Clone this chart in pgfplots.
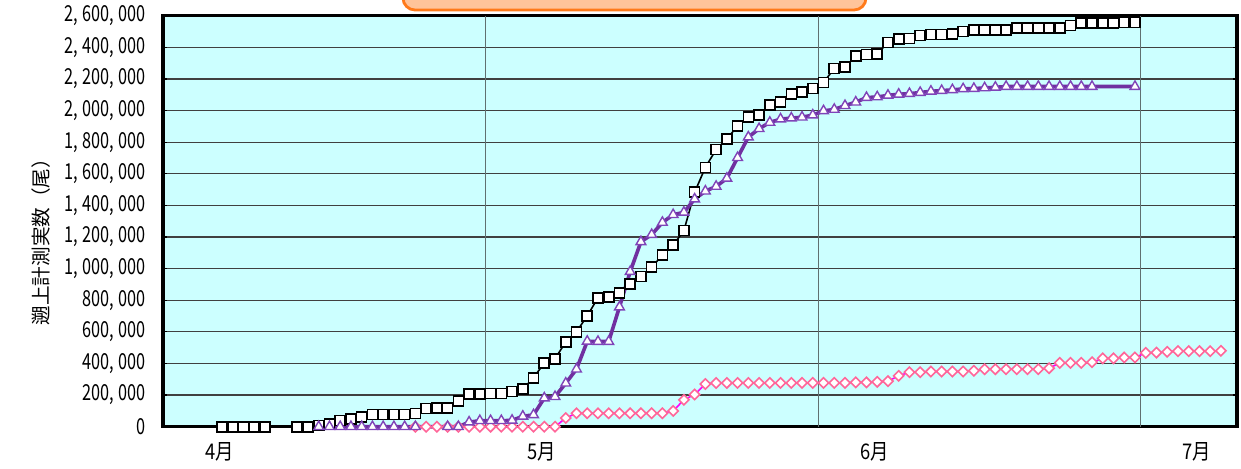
\documentclass[border=0pt]{standalone}
\usepackage{fontspec}
\setmainfont{Noto Sans CJK JP}
\newfontfamily\tickfont[FakeStretch=0.74]{Noto Sans CJK JP}
\newfontfamily\xtickfont[FakeStretch=0.85]{Noto Sans CJK JP}
\usepackage{pgfplots}
\pgfplotsset{compat=1.18}
\definecolor{bgc}{HTML}{CCFFFF}
\definecolor{hgrid}{HTML}{404040}
\definecolor{vgrid}{HTML}{607070}
\definecolor{purp}{HTML}{7030A0}
\definecolor{triE}{HTML}{7F44B8}
\definecolor{mag}{HTML}{FF00FF}
\definecolor{pinkE}{HTML}{FF6699}
\definecolor{orE}{HTML}{FF7A1A}
\definecolor{orF}{HTML}{FFC49A}
\newcommand{\cs}{,\hspace{2.2pt}}
\begin{document}
\begin{tikzpicture}
\useasboundingbox (0,0) rectangle (620.5pt,234pt);
\begin{scope}
\clip (0,0) rectangle (620.5pt,234pt);
\draw[line width=1.4pt, draw=orE, fill=orF, rounded corners=6pt] (201.5pt,229pt) rectangle (433pt,260pt);
\end{scope}
\node[rotate=90, font=\fontsize{9.8}{11}\selectfont] at (20.5pt,115.5pt) {遡上計測実数（尾）};
\begin{axis}[
  at={(81.5pt,20.65pt)}, anchor=south west,
  scale only axis, width=537pt, height=205.5pt,
  xmin=0, xmax=100, ymin=0, ymax=2600000,
  axis background/.style={fill=bgc},
  axis line style={line width=1.6pt, black},
  clip=false,
  ytick={0,200000,400000,600000,800000,1000000,1200000,1400000,1600000,1800000,2000000,2200000,2400000,2600000},
  yticklabels={0,200\cs000,400\cs000,600\cs000,800\cs000,1\cs000\cs000,1\cs200\cs000,1\cs400\cs000,1\cs600\cs000,1\cs800\cs000,2\cs000\cs000,2\cs200\cs000,2\cs400\cs000,2\cs600\cs000},
  ymajorgrids,
  major grid style={color=hgrid, line width=0.6pt},
  tick align=inside,
  ytick style={black, line width=0.6pt},
  major tick length=2pt,
  yticklabel style={font=\tickfont\fontsize{11}{12}\selectfont, xshift=-5pt},
  xtick={5.25,35.25,66.25,96.25},
  xticklabels={4月,5月,6月,7月},
  xtick style={draw=none},
  xticklabel style={font=\xtickfont\fontsize{10.8}{12}\selectfont, yshift=-4.5pt},
  extra x ticks={30,61,91},
  extra x tick labels={},
  extra x tick style={grid=major, major grid style={color=vgrid, line width=0.6pt}, tick style={draw=none}},
  scaled y ticks=false,
]
% squares series
\addplot[black, line width=0.8pt, mark=square*, mark size=2.5pt, mark options={fill=white, draw=black, line width=0.8pt}] coordinates {
(5.5,0)(6.5,0)(7.5,0)(8.5,0)(9.5,0)(12.5,0)(13.5,0)(14.5,8000)(15.5,19000)(16.5,40000)(17.5,50000)(18.5,63000)(19.5,78000)(20.5,78000)(21.5,78000)(22.5,78000)(23.5,84000)(24.5,114000)(25.5,118000)(26.5,118000)(27.5,164000)(28.5,206000)(29.5,206000)(30.5,209000)(31.5,211000)(32.5,222000)(33.5,237000)(34.5,310000)(35.5,403000)(36.5,430000)(37.5,536000)(38.5,600000)(39.5,702000)(40.5,815000)(41.5,820000)(42.5,846000)(43.5,902000)(44.5,951000)(45.5,1010000)(46.5,1085000)(47.5,1149000)(48.5,1240000)(49.5,1483000)(50.5,1641000)(51.5,1753000)(52.5,1820000)(53.5,1903000)(54.5,1960000)(55.5,1970000)(56.5,2034000)(57.5,2056000)(58.5,2104000)(59.5,2119000)(60.5,2139000)(61.5,2178000)(62.5,2266000)(63.5,2274000)(64.5,2344000)(65.5,2355000)(66.5,2358000)(67.5,2430000)(68.5,2453000)(69.5,2457000)(70.5,2474000)(71.5,2482000)(72.5,2482000)(73.5,2486000)(74.5,2499000)(75.5,2508000)(76.5,2508000)(77.5,2508000)(78.5,2508000)(79.5,2524000)(80.5,2524000)(81.5,2524000)(82.5,2524000)(83.5,2524000)(84.5,2537000)(85.5,2552000)(86.5,2552000)(87.5,2552000)(88.5,2552000)(89.5,2556000)(90.5,2556000)
};
% diamonds series
\addplot[mag, line width=0.8pt, mark=square*, mark size=1.8pt, mark options={rotate=45, fill=white, draw=pinkE, line width=0.8pt}] coordinates {
(23.5,0)(24.5,0)(25.5,0)(26.5,0)(27.5,0)(28.5,0)(29.5,0)(30.5,0)(31.5,0)(32.5,0)(33.5,0)(34.5,0)(35.5,0)(36.5,0)(37.5,55000)(38.5,85000)(39.5,85000)(40.5,85000)(41.5,85000)(42.5,85000)(43.5,85000)(44.5,85000)(45.5,85000)(46.5,85000)(47.5,100000)(48.5,170000)(49.5,204000)(50.5,270000)(51.5,277000)(52.5,277000)(53.5,277000)(54.5,277000)(55.5,277000)(56.5,277000)(57.5,277000)(58.5,277000)(59.5,277000)(60.5,277000)(61.5,277000)(62.5,277000)(63.5,277000)(64.5,280000)(65.5,280000)(66.5,284000)(67.5,288000)(68.5,322000)(69.5,345000)(70.5,345000)(71.5,349000)(72.5,349000)(73.5,349000)(74.5,349000)(75.5,354000)(76.5,364000)(77.5,364000)(78.5,364000)(79.5,364000)(80.5,364000)(81.5,364000)(82.5,370000)(83.5,404000)(84.5,404000)(85.5,404000)(86.5,408000)(87.5,432000)(88.5,432000)(89.5,438000)(90.5,438000)(91.5,467000)(92.5,469000)(93.5,474000)(94.5,478000)(95.5,478000)(96.5,478000)(97.5,478000)(98.5,480000)
};
% triangles series
\addplot[purp, line width=1.8pt, mark=triangle*, mark size=2.8pt, mark options={fill=white, draw=triE, line width=0.7pt}] coordinates {
(14.5,0)(15.5,0)(16.5,0)(17.5,0)(18.5,0)(19.5,0)(20.5,0)(21.5,0)(22.5,0)(23.5,0)(26.5,0)(27.5,0)(28.5,29000)(29.5,38000)(30.5,38000)(31.5,38000)(32.5,40000)(33.5,66000)(34.5,75000)(35.5,181000)(36.5,190000)(37.5,275000)(38.5,364000)(39.5,540000)(40.5,539000)(41.5,539000)(42.5,757000)(43.5,981000)(44.5,1170000)(45.5,1215000)(46.5,1292000)(47.5,1341000)(48.5,1356000)(49.5,1440000)(50.5,1490000)(51.5,1520000)(52.5,1571000)(53.5,1702000)(54.5,1832000)(55.5,1885000)(56.5,1925000)(57.5,1946000)(58.5,1952000)(59.5,1958000)(60.5,1971000)(61.5,1998000)(62.5,2007000)(63.5,2031000)(64.5,2053000)(65.5,2082000)(66.5,2086000)(67.5,2096000)(68.5,2103000)(69.5,2107000)(70.5,2114000)(71.5,2122000)(72.5,2126000)(73.5,2131000)(74.5,2137000)(75.5,2139000)(76.5,2143000)(77.5,2147000)(78.5,2152000)(79.5,2152000)(80.5,2152000)(81.5,2152000)(82.5,2152000)(83.5,2152000)(84.5,2152000)(85.5,2152000)(86.5,2152000)(90.5,2152000)
};
\end{axis}
\end{tikzpicture}
\end{document}
